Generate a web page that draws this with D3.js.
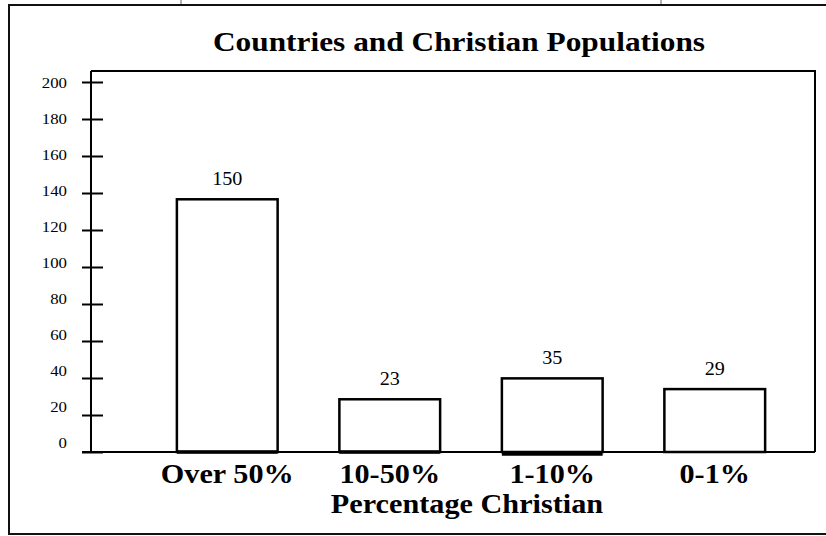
<!DOCTYPE html>
<html>
<head>
<meta charset="utf-8">
<script src="https://cdn.jsdelivr.net/npm/d3@7"></script>
<style>
  html, body { margin: 0; padding: 0; background: #fff; }
  text { font-family: "Liberation Serif", "Times New Roman", serif; fill: #000; }
</style>
</head>
<body>
<div id="chart"></div>
<script>
// chart data
const categories = ['Over 50%', '10-50%', '1-10%', '0-1%']
const valueLabels = [150, 23, 35, 29]          // numbers printed above bars
const barHeights = [136.6, 28.5, 39.8, 34]     // heights as drawn on the axis
const yTicks = [0, 20, 40, 60, 80, 100, 120, 140, 160, 180, 200]

let fullWidth = 826
let fullHeight = 536
let stretch = 1.12   // text in the original is a bit wide

const svg = d3.select('#chart').append('svg')
    .attr('width', fullWidth)
    .attr('height', fullHeight)

const plot = { left: 91, right: 815, top: 71, bottom: 452 }

const x = d3.scaleBand()
    .domain(categories)
    .range([146, 796])
    .paddingInner(0.38)
    .paddingOuter(0.19)

const y = d3.scaleLinear().domain([0, 200]).range([plot.bottom, 82])
// tick numbers sit a little above their ticks in the original
const yLabel = d3.scaleLinear().domain([0, 200]).range([443, 83])

function stretchedText(g, str, tx, ty, size, weight, anchor) {
    return g.append('text')
        .attr('transform', `translate(${tx},${ty}) scale(${stretch},1)`)
        .attr('text-anchor', anchor || 'middle')
        .attr('font-size', size)
        .attr('font-weight', weight || 'normal')
        .text(str)
}

// outer frame + stray grey marks on top
svg.append('rect')
    .attr('x', 9).attr('y', 5)
    .attr('width', 830).attr('height', 529)
    .attr('fill', 'none').attr('stroke', '#111').attr('stroke-width', 2)

svg.selectAll('.topmark').data([181, 661]).enter().append('line')
    .attr('class', 'topmark')
    .attr('x1', d => d).attr('x2', d => d)
    .attr('y1', 0).attr('y2', 4)
    .attr('stroke', '#999').attr('stroke-width', 1.5)

// title
stretchedText(svg, 'Countries and Christian Populations', 459, 51, 28, 'bold')

// plot box (top and right)
svg.append('path')
    .attr('d', `M${plot.left},${plot.top}H${plot.right}V${plot.bottom}`)
    .attr('fill', 'none').attr('stroke', '#000').attr('stroke-width', 2)

// y axis
const yAxis = d3.axisLeft(y)
    .tickValues(yTicks)
    .tickSizeInner(9)
    .tickSizeOuter(0)
    .tickFormat('')

const axisG = svg.append('g')
    .attr('transform', `translate(${plot.left},0)`)
    .call(yAxis)

axisG.select('.domain')
    .attr('d', `M0,${plot.top}V${plot.bottom}`)
    .attr('stroke', '#000').attr('stroke-width', 2)

// ticks cross the axis line
axisG.selectAll('.tick line')
    .attr('x1', -9).attr('x2', 12)
    .attr('stroke', '#000').attr('stroke-width', 2)

const tickLabels = svg.append('g').attr('class', 'tick-labels')
yTicks.forEach(t => {
    stretchedText(tickLabels, t, 67, yLabel(t) + 5, 15, 'normal', 'end')
})

// baseline
svg.append('line')
    .attr('x1', 82).attr('x2', plot.right)
    .attr('y1', y(0)).attr('y2', y(0))
    .attr('stroke', '#000').attr('stroke-width', 2)

// bars
const bars = categories.map((c, i) => ({ cat: c, h: barHeights[i], label: valueLabels[i] }))

svg.append('g').attr('class', 'bars')
    .selectAll('rect')
    .data(bars)
    .enter()
    .append('rect')
    .attr('x', d => x(d.cat))
    .attr('y', d => y(d.h))
    .attr('width', x.bandwidth())
    .attr('height', d => y(0) - y(d.h))
    .attr('fill', '#fff')
    .attr('stroke', '#000')
    .attr('stroke-width', 2.5)

// heavier bottom edges on the bars
svg.append('g').attr('class', 'bar-bottoms')
    .selectAll('line')
    .data(bars.slice(0, 3))
    .enter()
    .append('line')
    .attr('x1', d => x(d.cat)).attr('x2', d => x(d.cat) + x.bandwidth())
    .attr('y1', (d, i) => y(0) + (i == 2 ? 2 : 0)).attr('y2', (d, i) => y(0) + (i == 2 ? 2 : 0))
    .attr('stroke', '#000').attr('stroke-width', 3.5)

// value labels
const valG = svg.append('g').attr('class', 'values')
bars.forEach(d => {
    stretchedText(valG, d.label, x(d.cat) + x.bandwidth() / 2, y(d.h) - 14, 18)
})

// category labels
const catG = svg.append('g').attr('class', 'categories')
categories.forEach(c => {
    stretchedText(catG, c, x(c) + x.bandwidth() / 2, 483, 27, 'bold')
})

// x axis title
stretchedText(svg, 'Percentage Christian', 467, 513, 27, 'bold')
</script>
</body>
</html>
